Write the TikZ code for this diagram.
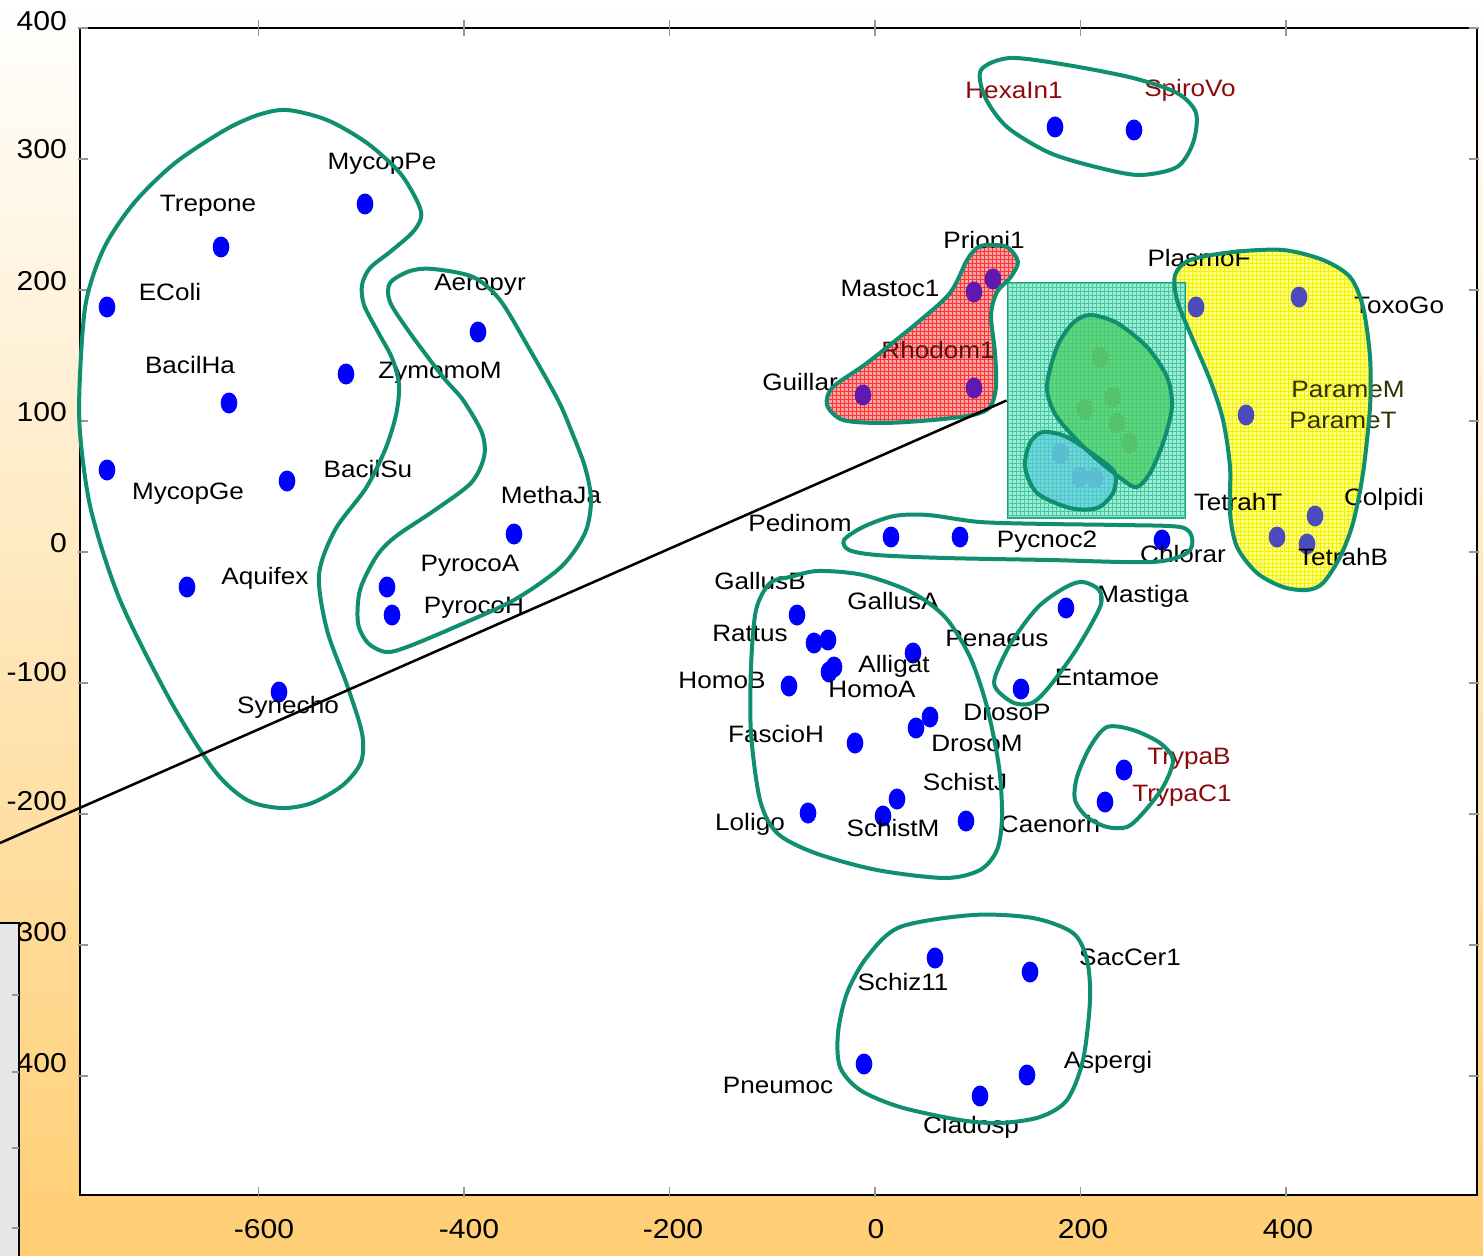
\documentclass[tikz,border=0pt]{standalone}
\usepackage{fontspec}
\setmainfont{Liberation Sans}[FakeStretch=1.1]
\usetikzlibrary{shapes.geometric,patterns}
\definecolor{bgmid}{RGB}{255,233,195}
\definecolor{bgbot}{RGB}{255,206,115}
\definecolor{blobline}{RGB}{15,143,111}
\definecolor{boxline}{RGB}{25,160,120}
\definecolor{tealbase}{RGB}{160,236,214}
\definecolor{tealgrid}{RGB}{70,200,160}
\definecolor{greenfill}{RGB}{70,205,95}
\definecolor{cyanfill}{RGB}{80,200,225}
\definecolor{redbase}{RGB}{250,165,165}
\definecolor{redgrid}{RGB}{255,50,50}
\definecolor{yellowbase}{RGB}{255,255,135}
\definecolor{yellowgrid}{RGB}{240,240,0}
\definecolor{darkredtxt}{RGB}{140,10,10}
\definecolor{purpledot}{RGB}{95,25,175}
\definecolor{yeldot}{RGB}{75,75,190}
\definecolor{fgreen}{RGB}{85,195,110}
\definecolor{fcyan}{RGB}{90,190,210}
\definecolor{tickgray}{RGB}{150,150,150}
\definecolor{greyrect}{RGB}{230,230,230}
\begin{document}
\begin{tikzpicture}[x=0.75pt,y=-0.75pt,
  dot/.style={ellipse,fill=blue,draw=none,inner sep=0pt,minimum width=12.5pt,minimum height=15.75pt},
  rdot/.style={dot,fill=purpledot},
  ydot/.style={dot,fill=yeldot},
  gdot/.style={dot,fill=fgreen},
  cdot/.style={dot,fill=fcyan},
  lab/.style={inner sep=0pt,anchor=base,font=\fontsize{17.8}{20}\selectfont},
  rlab/.style={lab,text=darkredtxt},
  tl/.style={inner sep=0pt,font=\fontsize{20.5}{23}\selectfont},
  tick/.style={draw=tickgray,line width=0.8pt},
  blob/.style={draw=blobline,line width=3pt},
  boxst/.style={draw=boxline,line width=2.2pt,fill=tealbase,inner sep=0pt,
    minimum width=132.75pt,minimum height=176.25pt,
    postaction={pattern=grid,pattern color=tealgrid}}
]
\useasboundingbox (0,0) rectangle (1483,1255);
\shade[top color=white,middle color=bgmid,bottom color=bgbot] (0,0) rectangle (1483,1255);
% frame
\draw[line width=1.5pt,fill=white] (80,28) rectangle (1477,1195);
\foreach \yy in {28,159,290,421,552,683,814,945,1076}{
  \draw[tick] (78,\yy) -- (88,\yy);
  \draw[tick] (1469,\yy) -- (1479,\yy);}
\foreach \xx in {258.5,464,669.5,875,1080.5,1286}{
  \draw[tick] (\xx,1197) -- (\xx,1187);
  \draw[tick] (\xx,20) -- (\xx,36);}
% region fills
\path[fill=redbase,postaction={pattern=grid,pattern color=redgrid}] plot[smooth cycle] coordinates {(987,245) (1007,247) (1018,262) (1010,278) (997,292) (991,315) (995,353) (996,387) (990,407) (973,415) (933,420) (883,423) (843,420) (827,405) (833,387) (867,363) (917,323) (950,293) (967,260) (977,248)};
\path[fill=yellowbase,postaction={pattern=grid,pattern color=yellowgrid}] plot[smooth cycle] coordinates {(1190,260) (1233,252) (1283,250) (1323,260) (1350,277) (1363,307) (1370,357) (1370,407) (1363,473) (1353,523) (1340,557) (1323,583) (1307,590) (1283,587) (1257,573) (1237,547) (1230,513) (1230,467) (1223,420) (1210,380) (1190,333) (1177,300) (1175,275)};
\node[boxst] (box) at (1096.5,400.5) {};
\path[fill=greenfill,fill opacity=0.7] plot[smooth cycle] coordinates {(1090,315) (1117,323) (1147,347) (1167,377) (1172,407) (1163,443) (1150,473) (1137,487) (1123,480) (1090,453) (1057,417) (1047,387) (1057,347) (1073,323)};
\path[fill=cyanfill,fill opacity=0.6] plot[smooth cycle] coordinates {(1043,432) (1067,437) (1097,457) (1115,473) (1113,493) (1097,508) (1070,508) (1037,493) (1025,467) (1030,443)};
% faint points inside the box
\node[gdot] (f1) at (1100,357) {};
\node[gdot] (f2) at (1113,397) {};
\node[gdot] (f3) at (1085,409) {};
\node[gdot] (f4) at (1117,423) {};
\node[gdot] (f5) at (1130,443) {};
\node[cdot] (f6) at (1060,453) {};
\node[cdot] (f7) at (1080,477) {};
\node[cdot] (f8) at (1095,478) {};
% points
\node[dot] (d-mycoppe) at (365,204) {};
\node[dot] (d-trepone) at (221,247) {};
\node[dot] (d-ecoli) at (107,307) {};
\node[dot] (d-zymomom) at (346,374) {};
\node[dot] (d-bacilha) at (229,403) {};
\node[dot] (d-aeropyr) at (478,332) {};
\node[dot] (d-mycopge) at (107,470) {};
\node[dot] (d-bacilsu) at (287,481) {};
\node[dot] (d-methaja) at (514,534) {};
\node[dot] (d-aquifex) at (187,587) {};
\node[dot] (d-pyrocoa) at (387,587) {};
\node[dot] (d-pyrocoh) at (392,615) {};
\node[dot] (d-synecho) at (279,692) {};
\node[dot] (d-hexain1) at (1055,127) {};
\node[dot] (d-spirovo) at (1134,130) {};
\node[rdot] (d-prioni1) at (993,279) {};
\node[rdot] (d-mastoc1) at (974,292) {};
\node[rdot] (d-rhodom1) at (974,388) {};
\node[rdot] (d-guillar) at (863,395) {};
\node[ydot] (d-plasmof) at (1196,307) {};
\node[ydot] (d-toxogo) at (1299,297) {};
\node[ydot] (d-parame) at (1246,415) {};
\node[ydot] (d-colpidi) at (1315,516) {};
\node[ydot] (d-tetrahb1) at (1277,537) {};
\node[ydot] (d-tetrahb2) at (1307,544) {};
\node[dot] (d-pedinom) at (891,537) {};
\node[dot] (d-pycnoc2) at (960,537) {};
\node[dot] (d-chlorar) at (1162,540) {};
\node[dot] (d-gallusb) at (797,615) {};
\node[dot] (d-rattus1) at (814,643) {};
\node[dot] (d-rattus2) at (828,640) {};
\node[dot] (d-alligat) at (913,653) {};
\node[dot] (d-homob) at (789,686) {};
\node[dot] (d-homoa1) at (829,672) {};
\node[dot] (d-homoa2) at (834,667) {};
\node[dot] (d-mastiga) at (1066,608) {};
\node[dot] (d-entamoe) at (1021,689) {};
\node[dot] (d-drosop) at (930,717) {};
\node[dot] (d-drosom) at (916,728) {};
\node[dot] (d-fascioh) at (855,743) {};
\node[dot] (d-schistj) at (897,799) {};
\node[dot] (d-schistm) at (883,816) {};
\node[dot] (d-caenorh) at (966,821) {};
\node[dot] (d-loligo) at (808,813) {};
\node[dot] (d-trypab) at (1124,770) {};
\node[dot] (d-trypac1) at (1105,802) {};
\node[dot] (d-schiz11) at (935,958) {};
\node[dot] (d-saccer1) at (1030,972) {};
\node[dot] (d-pneumoc) at (864,1064) {};
\node[dot] (d-aspergi) at (1027,1075) {};
\node[dot] (d-cladosp) at (980,1096) {};
% labels
\node[lab] (l-mycoppe) at (382,170) {MycopPe};
\node[lab] (l-trepone) at (208,212) {Trepone};
\node[lab] (l-ecoli) at (170,300) {EColi};
\node[lab] (l-bacilha) at (190,373) {BacilHa};
\node[lab] (l-zymomom) at (440,378) {ZymomoM};
\node[lab] (l-aeropyr) at (480,290) {Aeropyr};
\node[lab] (l-mycopge) at (188,499) {MycopGe};
\node[lab] (l-bacilsu) at (368,477) {BacilSu};
\node[lab] (l-methaja) at (551,503) {MethaJa};
\node[lab] (l-aquifex) at (265,584) {Aquifex};
\node[lab] (l-pyrocoa) at (470,571) {PyrocoA};
\node[lab] (l-pyrocoh) at (474,613) {PyrocoH};
\node[lab] (l-synecho) at (288,713) {Synecho};
\node[rlab] (l-hexain1) at (1014,99) {HexaIn1};
\node[rlab] (l-spirovo) at (1190,97) {SpiroVo};
\node[lab] (l-prioni1) at (984,248) {Prioni1};
\node[lab] (l-mastoc1) at (890,296) {Mastoc1};
\node[lab,text={rgb,255:red,85;green,20;blue,20}] (l-rhodom1) at (938,358) {Rhodom1};
\node[lab] (l-guillar) at (800,390) {Guillar};
\node[lab] (l-plasmof) at (1199,266) {PlasmoF};
\node[lab] (l-toxogo) at (1399,313) {ToxoGo};
\node[lab,text={rgb,255:red,50;green,50;blue,0}] (l-paramem) at (1348,397) {ParameM};
\node[lab,text={rgb,255:red,50;green,50;blue,0}] (l-paramet) at (1343,428) {ParameT};
\node[lab] (l-tetraht) at (1238,510) {TetrahT};
\node[lab] (l-colpidi) at (1384,505) {Colpidi};
\node[lab] (l-tetrahb) at (1343,565) {TetrahB};
\node[lab] (l-pedinom) at (800,531) {Pedinom};
\node[lab] (l-pycnoc2) at (1047,547) {Pycnoc2};
\node[lab] (l-chlorar) at (1183,562) {Chlorar};
\node[lab] (l-gallusb) at (760,589) {GallusB};
\node[lab] (l-gallusa) at (893,609) {GallusA};
\node[lab] (l-rattus) at (750,641) {Rattus};
\node[lab] (l-penaeus) at (997,646) {Penaeus};
\node[lab] (l-mastiga) at (1143,602) {Mastiga};
\node[lab] (l-alligat) at (894,672) {Alligat};
\node[lab] (l-homob) at (722,688) {HomoB};
\node[lab] (l-homoa) at (872,697) {HomoA};
\node[lab] (l-entamoe) at (1107,685) {Entamoe};
\node[lab] (l-drosop) at (1007,720) {DrosoP};
\node[lab] (l-fascioh) at (776,742) {FascioH};
\node[lab] (l-drosom) at (977,751) {DrosoM};
\node[lab] (l-schistj) at (965,790) {SchistJ};
\node[lab] (l-loligo) at (750,830) {Loligo};
\node[lab] (l-schistm) at (893,836) {SchistM};
\node[lab] (l-caenorh) at (1050,832) {Caenorh};
\node[rlab] (l-trypab) at (1189,764) {TrypaB};
\node[rlab] (l-trypac1) at (1182,801) {TrypaC1};
\node[lab] (l-saccer1) at (1130,965) {SacCer1};
\node[lab] (l-schiz11) at (903,990) {Schiz11};
\node[lab] (l-aspergi) at (1108,1068) {Aspergi};
\node[lab] (l-pneumoc) at (778,1093) {Pneumoc};
\node[lab] (l-cladosp) at (971,1133) {Cladosp};
% cluster outlines
\draw[blob] plot[smooth cycle] coordinates {(287,110) (327,120) (367,143) (400,173) (418,203) (421,218) (412,233) (390,252) (370,268) (362,285) (364,305) (378,332) (392,358) (399,385) (396,415) (385,450) (366,488) (335,530) (319,575) (327,630) (347,685) (362,733) (361,762) (343,785) (312,803) (281,808) (247,800) (214,770) (170,700) (120,600) (91,510) (80,433) (80,375) (86,302) (104,248) (134,203) (175,163) (225,130) (258,115)};
\draw[blob] plot[smooth cycle] coordinates {(433,269) (473,277) (500,300) (530,350) (558,400) (571,430) (585,467) (591,500) (585,533) (561,567) (514,600) (455,627) (407,647) (386,652) (368,643) (358,623) (360,590) (376,557) (395,537) (435,510) (471,483) (484,457) (482,433) (463,400) (443,377) (410,333) (390,302) (390,283) (410,271)};
\draw[blob] plot[smooth cycle] coordinates {(1010,58) (1067,65) (1133,78) (1177,93) (1196,113) (1193,143) (1177,167) (1140,175) (1100,168) (1050,153) (1007,127) (985,97) (981,70)};
\draw[blob] plot[smooth cycle] coordinates {(987,245) (1007,247) (1018,262) (1010,278) (997,292) (991,315) (995,353) (996,387) (990,407) (973,415) (933,420) (883,423) (843,420) (827,405) (833,387) (867,363) (917,323) (950,293) (967,260) (977,248)};
\draw[blob] plot[smooth cycle] coordinates {(1190,260) (1233,252) (1283,250) (1323,260) (1350,277) (1363,307) (1370,357) (1370,407) (1363,473) (1353,523) (1340,557) (1323,583) (1307,590) (1283,587) (1257,573) (1237,547) (1230,513) (1230,467) (1223,420) (1210,380) (1190,333) (1177,300) (1175,275)};
\draw[blob] plot[smooth cycle] coordinates {(1090,315) (1117,323) (1147,347) (1167,377) (1172,407) (1163,443) (1150,473) (1137,487) (1123,480) (1090,453) (1057,417) (1047,387) (1057,347) (1073,323)};
\draw[blob] plot[smooth cycle] coordinates {(1043,432) (1067,437) (1097,457) (1115,473) (1113,493) (1097,508) (1070,508) (1037,493) (1025,467) (1030,443)};
\draw[blob] plot[smooth cycle] coordinates {(863,527) (894,516) (928,515) (980,522) (1049,524) (1118,525) (1180,527) (1192,538) (1187,553) (1152,562) (1049,560) (945,558) (877,555) (849,550) (844,540)};
\draw[blob] plot[smooth cycle] coordinates {(790,577) (818,571) (863,575) (911,592) (945,617) (970,657) (987,707) (999,767) (1002,817) (997,850) (980,870) (945,878) (877,870) (815,853) (777,833) (760,800) (751,733) (751,667) (756,610) (770,583)};
\draw[blob] plot[smooth cycle] coordinates {(1083,582) (1099,590) (1100,607) (1076,650) (1049,687) (1032,703) (1014,703) (997,690) (995,677) (1011,643) (1038,607) (1066,587)};
\draw[blob] plot[smooth cycle] coordinates {(1107,727) (1133,730) (1160,743) (1173,760) (1163,787) (1143,813) (1127,827) (1107,827) (1087,817) (1075,800) (1077,777) (1090,747)};
\draw[blob] plot[smooth cycle] coordinates {(900,927) (973,915) (1033,918) (1073,933) (1087,960) (1090,1000) (1083,1060) (1067,1100) (1040,1117) (1000,1123) (960,1120) (900,1107) (860,1090) (840,1067) (838,1033) (847,993) (867,957)};
% black line to the box
\coordinate (lstart) at (0,843);
\draw[line width=1.9pt] (lstart) -- (box.west);
% tick labels
\node[tl,anchor=base east] (y1) at (67,31) {400};
\node[tl,anchor=base east] (y2) at (67,159) {300};
\node[tl,anchor=base east] (y3) at (67,290) {200};
\node[tl,anchor=base east] (y4) at (67,421) {100};
\node[tl,anchor=base east] (y5) at (67,552) {0};
\node[tl,anchor=base east] (y6) at (67,681) {-100};
\node[tl,anchor=base east] (y7) at (67,810) {-200};
\node[tl,anchor=base east] (y8) at (67,941) {300};
\node[tl,anchor=base east] (y9) at (67,1072) {400};
\node[tl,anchor=base] (x1) at (264,1238) {-600};
\node[tl,anchor=base] (x2) at (469,1238) {-400};
\node[tl,anchor=base] (x3) at (673,1238) {-200};
\node[tl,anchor=base] (x4) at (876,1238) {0};
\node[tl,anchor=base] (x5) at (1083,1238) {200};
\node[tl,anchor=base] (x6) at (1288,1238) {400};
% grey panel at bottom left
\draw[line width=1.5pt,fill=greyrect] (-10,923) -- (19,923) -- (19,1270) -- (-10,1270);
\foreach \yy in {995,1072,1148,1228}{\draw[tick] (12,\yy) -- (19,\yy);}
\end{tikzpicture}
\end{document}
